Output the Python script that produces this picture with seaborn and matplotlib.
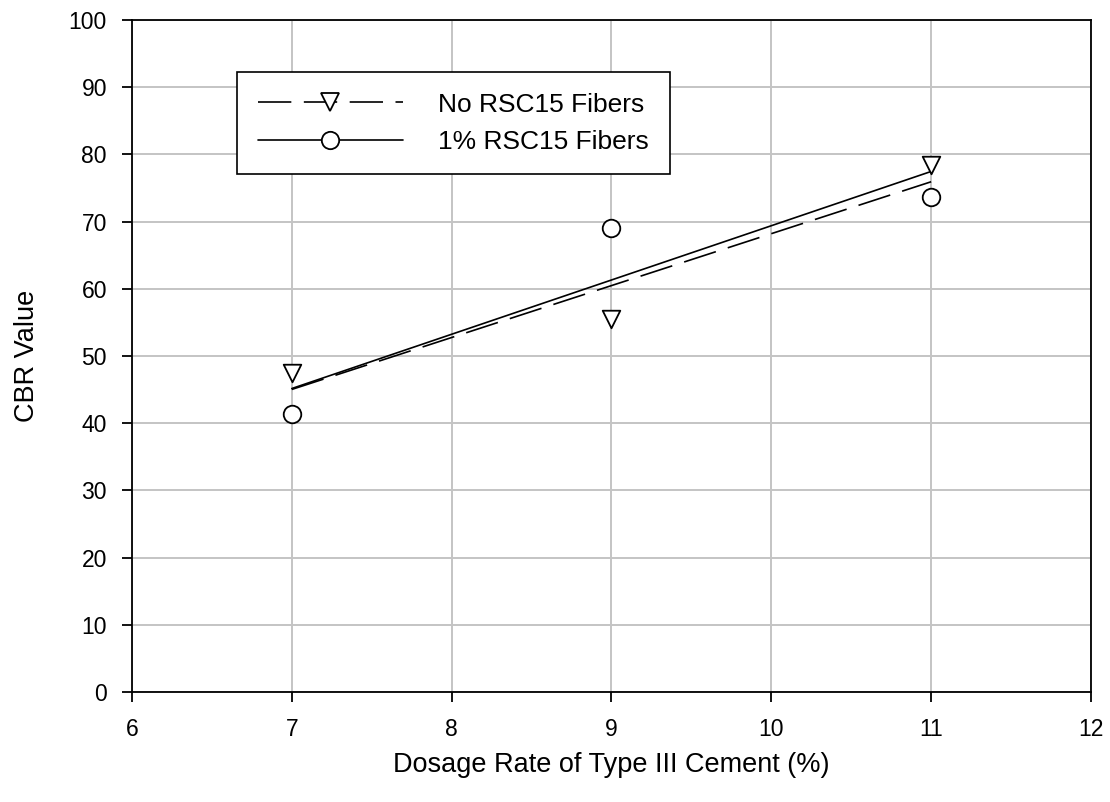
import numpy as np
import pandas as pd
import matplotlib
matplotlib.use('Agg')
import matplotlib.pyplot as plt
import seaborn as sns
from matplotlib.lines import Line2D

dosage = [7, 9, 11]
cbr_no_fiber = [47.5, 55.5, 78.4]
cbr_fiber = [41.3, 69.0, 73.6]
label_no_fiber = 'No RSC15 Fibers'
label_fiber = '1% RSC15 Fibers'

sns.set_style('white')
plt.rcParams['font.family'] = ['Liberation Sans', 'DejaVu Sans']
plt.rcParams['text.color'] = 'black'
plt.rcParams['axes.labelcolor'] = 'black'
plt.rcParams['xtick.color'] = 'black'
plt.rcParams['ytick.color'] = 'black'

fig = plt.figure(figsize=(11.1, 8.02), dpi=100)
ax = fig.add_axes([0.1189, 0.1372, 0.864, 0.838])

df = pd.DataFrame({'dosage': dosage, 'no_fiber': cbr_no_fiber, 'fiber': cbr_fiber})
dash = (0, (20, 7.5))

# fitted trend lines
sns.regplot(data=df, x='dosage', y='no_fiber', ci=None, ax=ax, scatter=False,
            line_kws={'color': 'black', 'lw': 1.2, 'ls': dash})
sns.regplot(data=df, x='dosage', y='fiber', ci=None, ax=ax, scatter=False,
            line_kws={'color': 'black', 'lw': 1.2})

# data points
sns.scatterplot(data=df, x='dosage', y='no_fiber', marker='v', s=160,
                facecolor='white', edgecolor='black', linewidth=1.3, ax=ax, zorder=5)
sns.scatterplot(data=df, x='dosage', y='fiber', marker='o', s=160,
                facecolor='white', edgecolor='black', linewidth=1.3, ax=ax, zorder=5)

ax.set_xlim(6, 12)
ax.set_ylim(0, 100)
ax.set_xticks(range(6, 13))
ax.set_yticks(range(0, 101, 10))
ax.grid(True, color='#c4c4c4', lw=1.4)
ax.set_axisbelow(True)
for sp in ax.spines.values():
    sp.set_color('black')
    sp.set_linewidth(1.3)
ax.tick_params(direction='out', length=7, width=1.3, labelsize=16.5, color='black',
               labelcolor='black', left=True, bottom=True)
ax.tick_params(axis='x', pad=12)
ax.tick_params(axis='y', pad=11)

ax.set_xlabel('Dosage Rate of Type III Cement (%)', fontsize=19.5, labelpad=8)
ax.set_ylabel('CBR Value', fontsize=19.5, labelpad=21)

handles = [
    Line2D([], [], color='black', lw=1.2, ls=dash, marker='v', markersize=12.5,
           markerfacecolor='white', markeredgecolor='black', markeredgewidth=1.3),
    Line2D([], [], color='black', lw=1.2, marker='o', markersize=12.5,
           markerfacecolor='white', markeredgecolor='black', markeredgewidth=1.3),
]
leg = ax.legend(handles, [label_no_fiber, label_fiber], loc='upper left',
                bbox_to_anchor=(0.1095, 0.9225), fontsize=19, frameon=True,
                fancybox=False, edgecolor='black', handlelength=5.5,
                handletextpad=1.35, borderpad=0.78, labelspacing=0.5, borderaxespad=0)
leg.get_frame().set_linewidth(1.2)
leg.get_frame().set_alpha(1)
for t in leg.get_texts():
    t.set_color('black')

fig.savefig('out.png', dpi=100)
